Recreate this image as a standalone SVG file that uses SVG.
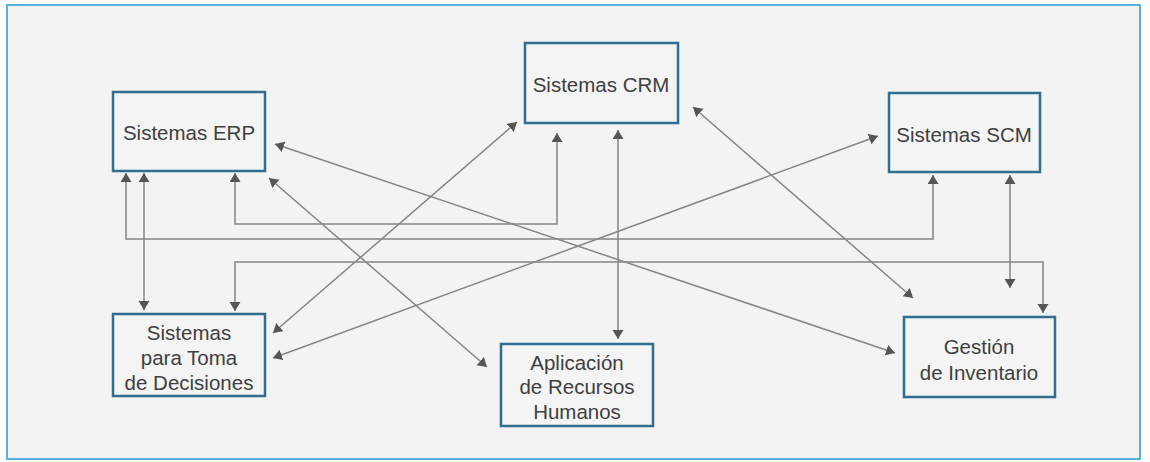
<svg xmlns="http://www.w3.org/2000/svg" width="1150" height="462" viewBox="0 0 1150 462">
<style>
.box{fill:#f4f4f4;stroke:#2f6e8e;stroke-width:2.5}
.lbl{font-family:"Liberation Sans",Arial,sans-serif;font-size:20.5px;fill:#404040;text-anchor:middle;dominant-baseline:central}
.c{fill:none;stroke:#858585;stroke-width:1.5;marker-start:url(#ah);marker-end:url(#ah)}
</style>
<defs>
<marker id="ah" markerUnits="userSpaceOnUse" markerWidth="10" markerHeight="12" refX="9" refY="5.5" orient="auto-start-reverse" viewBox="0 0 10 12">
<path d="M0,0 L9,5.5 L0,11 z" fill="#555"/>
</marker>
</defs>
<rect x="0" y="0" width="1150" height="462" fill="#ffffff"/>
<rect x="7" y="5" width="1133" height="454" fill="#f3f3f3" stroke="#5ab0dc" stroke-width="2"/>
<g id="connectors">
<path class="c" d="M126,173 V239 H933 V175"/>
<path class="c" d="M144,173 V310"/>
<path class="c" d="M235,173 V224 H557 V133"/>
<path class="c" d="M235,311 V262 H1043 V313"/>
<path class="c" d="M1010,175 V288"/>
<path class="c" d="M618,130 V339"/>
<path class="c" d="M273,333 L517,122"/>
<path class="c" d="M273,358 L878,136"/>
<path class="c" d="M275,144 L895,353"/>
<path class="c" d="M269,178 L487,367"/>
<path class="c" d="M693,107 L913,298"/>
</g>
<g id="erp">
<rect class="box" x="113" y="92" width="152" height="79"/>
<text class="lbl" x="189" y="132">Sistemas ERP</text>
</g>
<g id="crm">
<rect class="box" x="525" y="43" width="153" height="80"/>
<text class="lbl" x="601" y="84">Sistemas CRM</text>
</g>
<g id="scm">
<rect class="box" x="889" y="93" width="151" height="79"/>
<text class="lbl" x="964" y="134">Sistemas SCM</text>
</g>
<g id="decisiones">
<rect class="box" x="113" y="314" width="152" height="82"/>
<text class="lbl" x="189" y="332">Sistemas</text>
<text class="lbl" x="189" y="357">para Toma</text>
<text class="lbl" x="189" y="382">de Decisiones</text>
</g>
<g id="rrhh">
<rect class="box" x="501" y="344" width="152" height="82"/>
<text class="lbl" x="577" y="362">Aplicación</text>
<text class="lbl" x="577" y="386">de Recursos</text>
<text class="lbl" x="577" y="411">Humanos</text>
</g>
<g id="inventario">
<rect class="box" x="904" y="317" width="151" height="80"/>
<text class="lbl" x="979" y="346">Gestión</text>
<text class="lbl" x="979" y="372">de Inventario</text>
</g>
</svg>
